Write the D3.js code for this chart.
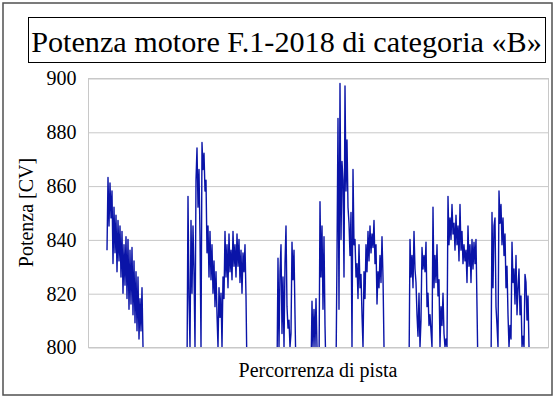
<!DOCTYPE html>
<html><head><meta charset="utf-8">
<script src="https://cdn.jsdelivr.net/npm/d3@7"></script>
<style>body{margin:0;background:#fff} svg{display:block}</style>
</head><body>
<script>
const titleText = "Potenza motore F.1-2018 di categoria «B»";
const yLabel = "Potenza [CV]";
const xLabel = "Percorrenza di pista";
const yTicks = [800, 820, 840, 860, 880, 900];
const yDomain = [800, 900];
const xDomain = [-19, 441];   // sample index range shown on the track axis

// engine power samples along the lap (values below 800 fall under the axis)
const power = [
  836,863,845,861,848,858,831,852,835,849,828,847,832,845,826,843,820,838,823,841,818,840,814,836,816,837,812,832,809,828,806,826,803,818,806,822,800,
  790,790,790,790,790,790,790,790,790,790,790,790,790,790,790,790,790,790,790,790,790,790,790,790,790,790,790,790,790,790,790,790,790,790,790,790,790,790,790,790,790,790,790,790,
  856,818,800,847,820,845,828,800,862,874,852,866,841,800,876,866,872,858,862,835,845,826,843,825,838,820,832,815,828,812,800,822,811,820,800,826,818,843,826,838,822,842,828,836,825,843,830,838,826,842,830,840,824,836,820,835,828,838,819,
  790,790,790,790,790,790,790,790,790,790,790,790,790,790,790,790,790,790,790,790,790,790,790,790,790,790,790,790,790,790,790,
  833,800,828,838,805,826,800,831,845,815,807,810,800,805,839,825,836,812,
  790,790,790,790,790,790,790,790,790,790,790,790,790,790,790,790,
  817,800,814,800,818,800,790,790,854,826,845,814,841,808,
  790,790,790,790,790,790,790,790,790,790,790,
  834,885,814,898,840,869,862,826,897,858,877,852,846,834,850,800,866,838,840,826,831,818,838,822,827,812,800,828,818,838,828,843,832,845,835,842,837,847,831,838,816,828,822,834,824,841,826,800,
  790,790,790,790,790,790,790,790,790,790,790,790,790,790,790,790,790,790,790,790,790,790,790,790,790,
  840,826,834,822,843,829,824,812,804,820,800,810,837,829,834,828,839,815,820,808,812,806,800,852,822,834,824,838,819,825,800,815,808,820,805,800,803,800,856,838,848,840,853,842,846,836,849,838,845,832,853,836,843,831,838,832,836,824,845,830,838,824,840,829,839,831,840,815,
  790,790,790,790,790,790,790,790,790,790,790,790,790,790,
  850,822,845,848,815,808,800,858,846,853,838,848,834,842,822,830,812,800,808,803,839,824,829,816,834,812,822,829,812,819,800,804,800,827,824,810,819,800,790
];

const W = 555, H = 399;
const plot = {left: 88, right: 548, top: 78, bottom: 347};
const serif = "'Liberation Serif','Times New Roman',serif";

const svg = d3.select("body").append("svg").attr("width", W).attr("height", H);

// outer chart frame
svg.append("rect").attr("x", 3).attr("y", 3).attr("width", 549).attr("height", 392)
  .attr("fill", "#fff").attr("stroke", "#505050").attr("stroke-width", 1.5);

// title box
svg.append("rect").attr("x", 28.5).attr("y", 17.5).attr("width", 517).attr("height", 45)
  .attr("fill", "#fff").attr("stroke", "#000").attr("stroke-width", 1);
svg.append("text").attr("x", 286.5).attr("y", 51.5)
  .attr("text-anchor", "middle").attr("font-family", serif).attr("font-size", 30.2)
  .attr("fill", "#000").text(titleText);

const x = d3.scaleLinear().domain(xDomain).range([plot.left, plot.right]);
const y = d3.scaleLinear().domain(yDomain).range([plot.bottom, plot.top]);

// plot area background + border
svg.append("rect").attr("x", plot.left + 0.5).attr("y", plot.top + 0.5)
  .attr("width", plot.right - plot.left).attr("height", plot.bottom - plot.top)
  .attr("fill", "#fff").attr("stroke", "#c8c8c8").attr("stroke-width", 1);

// y axis with gridlines
const yAxis = svg.append("g").attr("transform", `translate(${plot.left + 0.5},0.5)`)
  .call(d3.axisLeft(y).tickValues(yTicks).tickSize(-(plot.right - plot.left)).tickPadding(12).tickFormat(d3.format("d")));
yAxis.select(".domain").remove();
yAxis.selectAll(".tick line").attr("stroke", "#c8c8c8");
yAxis.selectAll(".tick text").attr("font-family", serif).attr("font-size", 20).attr("fill", "#000");

// clip and line
svg.append("clipPath").attr("id", "clip").append("rect")
  .attr("x", plot.left).attr("y", plot.top).attr("width", plot.right - plot.left).attr("height", plot.bottom - plot.top);

const line = d3.line().x((d, i) => x(i)).y(d => y(d));
svg.append("path").datum(power).attr("clip-path", "url(#clip)")
  .attr("d", line).attr("fill", "none").attr("stroke", "#0a14a8").attr("stroke-width", 1.4)
  .attr("stroke-linejoin", "round");

// axis titles
svg.append("text").attr("transform", `translate(33,${(plot.top + plot.bottom) / 2}) rotate(-90)`)
  .attr("text-anchor", "middle").attr("font-family", serif).attr("font-size", 20).attr("fill", "#000").text(yLabel);
svg.append("text").attr("x", (plot.left + plot.right) / 2).attr("y", 377)
  .attr("text-anchor", "middle").attr("font-family", serif).attr("font-size", 20).attr("fill", "#000").text(xLabel);
</script>
</body></html>
